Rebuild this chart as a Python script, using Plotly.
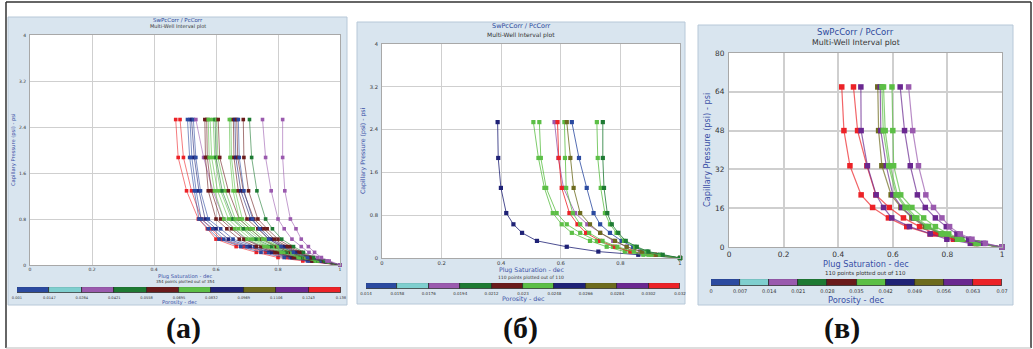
import plotly.graph_objects as go

W, H = 1033, 349

# ---------------- data ----------------
POROSITY_COLORS = ["#2b4aa0", "#7fcfcf", "#9a5aae", "#1e7a33", "#6a1b1b",
                   "#5cbf46", "#1f2276", "#6d6b1e", "#6a2890", "#ec2227"]

SW_TICKS = [0, 0.2, 0.4, 0.6, 0.8, 1]
SW_TICK_LABELS = ["0", "0.2", "0.4", "0.6", "0.8", "1"]
PC_TICKS_AB = [0, 0.8, 1.6, 2.4, 3.2, 4]
PC_TICK_LABELS_AB = ["0", "0.8", "1.6", "2.4", "3.2", "4"]
PC_TICKS_C = [0, 16, 32, 48, 64, 80]
PC_TICK_LABELS_C = ["0", "16", "32", "48", "64", "80"]

# panel (a)
PC_A = [2.53, 1.87, 1.29, 0.80, 0.63, 0.45, 0.32, 0.22, 0.13, 0.07, 0.0]
SW_A = [
    [0.470, 0.478, 0.505, 0.543, 0.572, 0.600, 0.665, 0.730, 0.800, 0.880, 1.0],
    [0.484, 0.495, 0.521, 0.553, 0.585, 0.615, 0.690, 0.760, 0.830, 0.900, 1.0],
    [0.508, 0.515, 0.530, 0.545, 0.575, 0.610, 0.680, 0.745, 0.820, 0.895, 1.0],
    [0.516, 0.522, 0.536, 0.552, 0.590, 0.625, 0.700, 0.770, 0.840, 0.905, 1.0],
    [0.521, 0.530, 0.545, 0.565, 0.600, 0.640, 0.710, 0.780, 0.845, 0.910, 1.0],
    [0.527, 0.535, 0.550, 0.575, 0.615, 0.655, 0.725, 0.790, 0.855, 0.915, 1.0],
    [0.535, 0.560, 0.590, 0.625, 0.660, 0.695, 0.750, 0.810, 0.870, 0.925, 1.0],
    [0.564, 0.566, 0.575, 0.600, 0.635, 0.675, 0.730, 0.790, 0.850, 0.910, 1.0],
    [0.570, 0.572, 0.585, 0.615, 0.650, 0.690, 0.745, 0.800, 0.860, 0.915, 1.0],
    [0.575, 0.578, 0.595, 0.625, 0.660, 0.700, 0.755, 0.810, 0.865, 0.920, 1.0],
    [0.581, 0.586, 0.605, 0.640, 0.672, 0.712, 0.765, 0.820, 0.870, 0.925, 1.0],
    [0.591, 0.596, 0.615, 0.650, 0.685, 0.722, 0.772, 0.825, 0.875, 0.928, 1.0],
    [0.597, 0.600, 0.620, 0.655, 0.690, 0.730, 0.780, 0.830, 0.880, 0.930, 1.0],
    [0.602, 0.606, 0.630, 0.662, 0.700, 0.740, 0.790, 0.838, 0.885, 0.932, 1.0],
    [0.607, 0.612, 0.640, 0.675, 0.710, 0.748, 0.795, 0.840, 0.888, 0.935, 1.0],
    [0.643, 0.645, 0.655, 0.675, 0.710, 0.750, 0.800, 0.845, 0.890, 0.935, 1.0],
    [0.648, 0.650, 0.662, 0.685, 0.720, 0.758, 0.805, 0.850, 0.893, 0.938, 1.0],
    [0.656, 0.658, 0.672, 0.700, 0.735, 0.770, 0.815, 0.858, 0.900, 0.940, 1.0],
    [0.661, 0.664, 0.680, 0.712, 0.745, 0.778, 0.822, 0.862, 0.903, 0.942, 1.0],
    [0.667, 0.670, 0.688, 0.722, 0.755, 0.788, 0.830, 0.868, 0.906, 0.944, 1.0],
    [0.672, 0.675, 0.690, 0.718, 0.740, 0.770, 0.810, 0.850, 0.895, 0.940, 1.0],
    [0.688, 0.690, 0.705, 0.735, 0.765, 0.800, 0.840, 0.875, 0.910, 0.947, 1.0],
    [0.708, 0.715, 0.732, 0.760, 0.782, 0.812, 0.850, 0.882, 0.915, 0.950, 1.0],
    [0.750, 0.760, 0.778, 0.800, 0.820, 0.845, 0.875, 0.900, 0.928, 0.958, 1.0],
    [0.815, 0.815, 0.822, 0.840, 0.858, 0.875, 0.898, 0.918, 0.940, 0.965, 1.0],
]
CLR_A = [9, 9, 0, 0, 6, 0, 2, 4, 4, 5, 5, 5, 3, 5, 4, 5, 5, 4, 6, 4, 0, 4, 3, 2, 2]

# panel (б)
PC_B = [2.54, 1.87, 1.31, 0.84, 0.63, 0.47, 0.32, 0.21, 0.12, 0.06, 0.0]
SW_B = [
    [0.388, 0.390, 0.399, 0.417, 0.441, 0.470, 0.520, 0.620, 0.726, 0.860, 1.0],
    [0.508, 0.525, 0.545, 0.573, 0.603, 0.637, 0.698, 0.754, 0.815, 0.877, 1.0],
    [0.528, 0.533, 0.551, 0.586, 0.620, 0.665, 0.721, 0.776, 0.832, 0.894, 1.0],
    [0.579, 0.592, 0.609, 0.648, 0.689, 0.732, 0.776, 0.821, 0.866, 0.916, 1.0],
    [0.589, 0.593, 0.603, 0.629, 0.656, 0.685, 0.732, 0.782, 0.834, 0.916, 1.0],
    [0.612, 0.614, 0.618, 0.640, 0.665, 0.695, 0.740, 0.790, 0.845, 0.905, 1.0],
    [0.620, 0.632, 0.643, 0.665, 0.698, 0.732, 0.782, 0.821, 0.872, 0.921, 1.0],
    [0.637, 0.661, 0.687, 0.710, 0.732, 0.765, 0.804, 0.843, 0.888, 0.933, 1.0],
    [0.721, 0.724, 0.734, 0.748, 0.765, 0.787, 0.812, 0.849, 0.888, 0.933, 1.0],
    [0.741, 0.741, 0.745, 0.756, 0.771, 0.793, 0.818, 0.855, 0.894, 0.942, 1.0],
]
CLR_B = [6, 5, 5, 2, 9, 5, 7, 0, 5, 3]

# panel (в)
PC_C = [66, 48, 33.5, 21.5, 16.3, 12, 8.4, 5.4, 3.2, 1.5, 0]
SW_C = [
    [0.413, 0.421, 0.443, 0.484, 0.526, 0.584, 0.651, 0.737, 0.822, 0.908, 1.0],
    [0.456, 0.471, 0.505, 0.538, 0.587, 0.639, 0.698, 0.756, 0.825, 0.904, 1.0],
    [0.483, 0.484, 0.507, 0.539, 0.566, 0.596, 0.661, 0.737, 0.798, 0.884, 1.0],
    [0.545, 0.548, 0.560, 0.594, 0.630, 0.670, 0.719, 0.776, 0.835, 0.902, 1.0],
    [0.554, 0.556, 0.576, 0.600, 0.633, 0.676, 0.725, 0.780, 0.841, 0.908, 1.0],
    [0.560, 0.565, 0.585, 0.612, 0.645, 0.680, 0.725, 0.778, 0.838, 0.905, 1.0],
    [0.566, 0.572, 0.590, 0.617, 0.651, 0.688, 0.731, 0.786, 0.845, 0.914, 1.0],
    [0.597, 0.600, 0.603, 0.629, 0.670, 0.713, 0.756, 0.805, 0.853, 0.914, 1.0],
    [0.627, 0.643, 0.664, 0.690, 0.719, 0.756, 0.796, 0.835, 0.878, 0.933, 1.0],
    [0.658, 0.673, 0.694, 0.721, 0.749, 0.780, 0.808, 0.847, 0.890, 0.939, 1.0],
]
CLR_C = [9, 9, 8, 7, 8, 5, 5, 5, 8, 2]

PORO_TICKS_A = [0.001, 0.0147, 0.0284, 0.0421, 0.0558, 0.0695, 0.0832, 0.0969, 0.1106, 0.1243, 0.138]
PORO_LABELS_A = ["0.001", "0.0147", "0.0284", "0.0421", "0.0558", "0.0695",
                 "0.0832", "0.0969", "0.1106", "0.1243", "0.138"]
PORO_TICKS_B = [0.014, 0.0158, 0.0176, 0.0194, 0.0212, 0.023, 0.0248, 0.0266, 0.0284, 0.0302, 0.032]
PORO_LABELS_B = ["0.014", "0.0158", "0.0176", "0.0194", "0.0212", "0.023",
                 "0.0248", "0.0266", "0.0284", "0.0302", "0.032"]
PORO_TICKS_C = [0, 0.007, 0.014, 0.021, 0.028, 0.035, 0.042, 0.049, 0.056, 0.063, 0.07]
PORO_LABELS_C = ["0", "0.007", "0.014", "0.021", "0.028", "0.035",
                 "0.042", "0.049", "0.056", "0.063", "0.07"]

POINTS_A = "354 points plotted out of 354"
POINTS_B = "110 points plotted out of 110"
POINTS_C = "110 points plotted out of 110"
PANEL_LABELS = ["(а)", "(б)", "(в)"]

# ---------------- helpers ----------------
def px(x):
    return x / W


def py(y):
    return 1 - y / H


def rgba(hexc, a):
    h = hexc.lstrip("#")
    return "rgba(%d,%d,%d,%.2f)" % (int(h[0:2], 16), int(h[2:4], 16), int(h[4:6], 16), a)


FONT = "DejaVu Sans"
TITLE_BLUE = "#2d4a9c"
AXIS_BLUE = "#3a50a6"
TICK_COL = "#333333"

P = {
    "a": dict(bg=(8, 17, 347, 305), plot=(30, 35, 340, 265), cbar=(17, 287, 341, 293),
              fs=dict(title=5.5, sub=5, tick=4.5, axt=5.2, pts=4, cbt=3.6, poro=5.2),
              txt=dict(hdr=(20, 27), xt=276, pts=281, yt=13, poro=302),
              ms=3.6, lw=0.8, lalpha=0.75, gw=1),
    "b": dict(bg=(357, 22, 685, 304), plot=(382, 44, 680, 258), cbar=(366, 283, 680, 289),
              fs=dict(title=6.5, sub=6, tick=5.2, axt=6.2, pts=4.5, cbt=4, poro=6.3),
              txt=dict(hdr=(26, 35), xt=270, pts=277.5, yt=363, poro=299),
              ms=4.2, lw=1, lalpha=0.8, gw=1),
    "c": dict(bg=(698, 25, 1013, 305), plot=(729, 53, 1002, 247), cbar=(711, 279, 1002, 286),
              fs=dict(title=8.5, sub=7.8, tick=7.4, axt=8.2, pts=5.5, cbt=5, poro=8.3),
              txt=dict(hdr=(32, 43), xt=264, pts=273.5, yt=707, poro=300),
              ms=5.5, lw=1.2, lalpha=0.7, gw=1.5),
}

fig = go.Figure()
shapes = []
annotations = []
layout_axes = {}


def note(x, y, text, size, color, family=FONT, angle=0):
    annotations.append(dict(x=px(x), y=py(y), xref="paper", yref="paper", text=text,
                            showarrow=False, xanchor="center", yanchor="middle",
                            textangle=angle, font=dict(family=family, size=size, color=color)))


panels = [
    ("a", PC_A, SW_A, CLR_A, PC_TICKS_AB, PC_TICK_LABELS_AB, [0, 4], PORO_TICKS_A, PORO_LABELS_A, POINTS_A),
    ("b", PC_B, SW_B, CLR_B, PC_TICKS_AB, PC_TICK_LABELS_AB, [0, 4], PORO_TICKS_B, PORO_LABELS_B, POINTS_B),
    ("c", PC_C, SW_C, CLR_C, PC_TICKS_C, PC_TICK_LABELS_C, [0, 80], PORO_TICKS_C, PORO_LABELS_C, POINTS_C),
]

for i, (key, pc, sws, clrs, yt, ytl, yr, pt, ptl, pts) in enumerate(panels):
    g = P[key]
    fs = g["fs"]
    tx = g["txt"]
    n = i + 1
    xa = "x" if n == 1 else "x%d" % n
    ya = "y" if n == 1 else "y%d" % n
    cbn = n + 3
    cxa, cya = "x%d" % cbn, "y%d" % cbn

    bx0, by0, bx1, by1 = g["bg"]
    shapes.append(dict(type="rect", xref="paper", yref="paper", layer="below",
                       x0=px(bx0), x1=px(bx1), y0=py(by1), y1=py(by0),
                       fillcolor="#d9e5ef", line=dict(color="#b7c8d8", width=1)))
    x0, y0, x1, y1 = g["plot"]
    shapes.append(dict(type="rect", xref="paper", yref="paper", layer="below",
                       x0=px(x0), x1=px(x1), y0=py(y1), y1=py(y0),
                       fillcolor="white", line=dict(width=0)))

    for sw, ci in zip(sws, clrs):
        col = POROSITY_COLORS[ci]
        fig.add_trace(go.Scatter(
            x=sw, y=pc, mode="lines+markers", xaxis=xa, yaxis=ya, cliponaxis=False,
            line=dict(color=rgba(col, g["lalpha"]), width=g["lw"]),
            marker=dict(symbol="square", size=g["ms"], color=col, line=dict(width=0)),
            showlegend=False, hoverinfo="skip"))

    axcommon = dict(showgrid=True, gridcolor="#cfcfcf", gridwidth=g["gw"], zeroline=False,
                    showline=True, linecolor="#a8a8a8", linewidth=1, mirror=True,
                    automargin=False,
                    ticks="", tickfont=dict(family=FONT, size=fs["tick"], color=TICK_COL))
    layout_axes["xaxis" if n == 1 else "xaxis%d" % n] = dict(
        domain=[px(x0), px(x1)], anchor=ya, range=[0, 1],
        tickvals=SW_TICKS, ticktext=SW_TICK_LABELS, ticklabelstandoff=0, **axcommon)
    layout_axes["yaxis" if n == 1 else "yaxis%d" % n] = dict(
        domain=[py(y1), py(y0)], anchor=xa, range=yr,
        tickvals=yt, ticktext=ytl, ticklabelstandoff=2, **axcommon)

    # colour bar built from porosity classes
    starts = pt[:-1]
    widths = [pt[k + 1] - pt[k] for k in range(len(pt) - 1)]
    fig.add_trace(go.Bar(
        x=widths, base=starts, y=[0] * len(widths), orientation="h", width=1,
        xaxis=cxa, yaxis=cya, cliponaxis=False,
        marker=dict(color=POROSITY_COLORS, line=dict(color="#2a2a2a", width=0.8)),
        showlegend=False, hoverinfo="skip"))
    cx0, cy0, cx1, cy1 = g["cbar"]
    layout_axes["xaxis%d" % cbn] = dict(
        domain=[px(cx0), px(cx1)], anchor=cya, range=[pt[0], pt[-1]],
        tickvals=pt, ticktext=ptl, showgrid=False, zeroline=False, showline=False, ticks="",
        ticklabelstandoff=1, automargin=False,
        tickfont=dict(family=FONT, size=fs["cbt"], color=TICK_COL))
    layout_axes["yaxis%d" % cbn] = dict(
        domain=[py(cy1), py(cy0)], anchor=cxa, range=[-0.5, 0.5], automargin=False,
        showticklabels=False, showgrid=False, zeroline=False, showline=False, ticks="")

    # texts
    cxp = (x0 + x1) / 2
    bcx = (bx0 + bx1) / 2
    note(bcx, tx["hdr"][0], "SwPcCorr / PcCorr", fs["title"], TITLE_BLUE)
    note(bcx, tx["hdr"][1], "Multi-Well Interval plot", fs["sub"], "#333333")
    note(cxp, tx["xt"], "Plug Saturation - dec", fs["axt"], AXIS_BLUE)
    note(cxp, tx["pts"], pts, fs["pts"], "#333333")
    note(tx["yt"], (y0 + y1) / 2, "Capillary Pressure (psi) - psi", fs["axt"], AXIS_BLUE, angle=-90)
    note((cx0 + cx1) / 2, tx["poro"], "Porosity - dec", fs["poro"], AXIS_BLUE)
    lab_x = {"a": 183, "b": 520, "c": 842}[key]
    note(lab_x, 328, "<b>%s</b>" % PANEL_LABELS[i], 30, "#111111", family="Liberation Serif")

# outer frame
shapes.append(dict(type="line", xref="paper", yref="paper", x0=px(6), x1=px(1031),
                   y0=py(2), y1=py(2), line=dict(color="#333333", width=1.5)))
shapes.append(dict(type="line", xref="paper", yref="paper", x0=px(6), x1=px(6),
                   y0=py(2), y1=py(348), line=dict(color="#333333", width=1.5)))
shapes.append(dict(type="line", xref="paper", yref="paper", x0=px(1031), x1=px(1031),
                   y0=py(2), y1=py(348), line=dict(color="#333333", width=1.5)))
shapes.append(dict(type="line", xref="paper", yref="paper", x0=px(6), x1=px(1031),
                   y0=py(348), y1=py(348), line=dict(color="#bbbbbb", width=1)))

fig.update_layout(
    width=W, height=H, margin=dict(l=0, r=0, t=0, b=0, pad=0, autoexpand=False),
    paper_bgcolor="white", plot_bgcolor="rgba(0,0,0,0)",
    shapes=shapes, annotations=annotations, bargap=0, showlegend=False,
    **layout_axes)

fig.write_html(
    "out.html", config={"displayModeBar": False},
    post_script="document.body.style.margin='0';document.body.style.padding='0';"
                "document.body.style.overflow='hidden';")
